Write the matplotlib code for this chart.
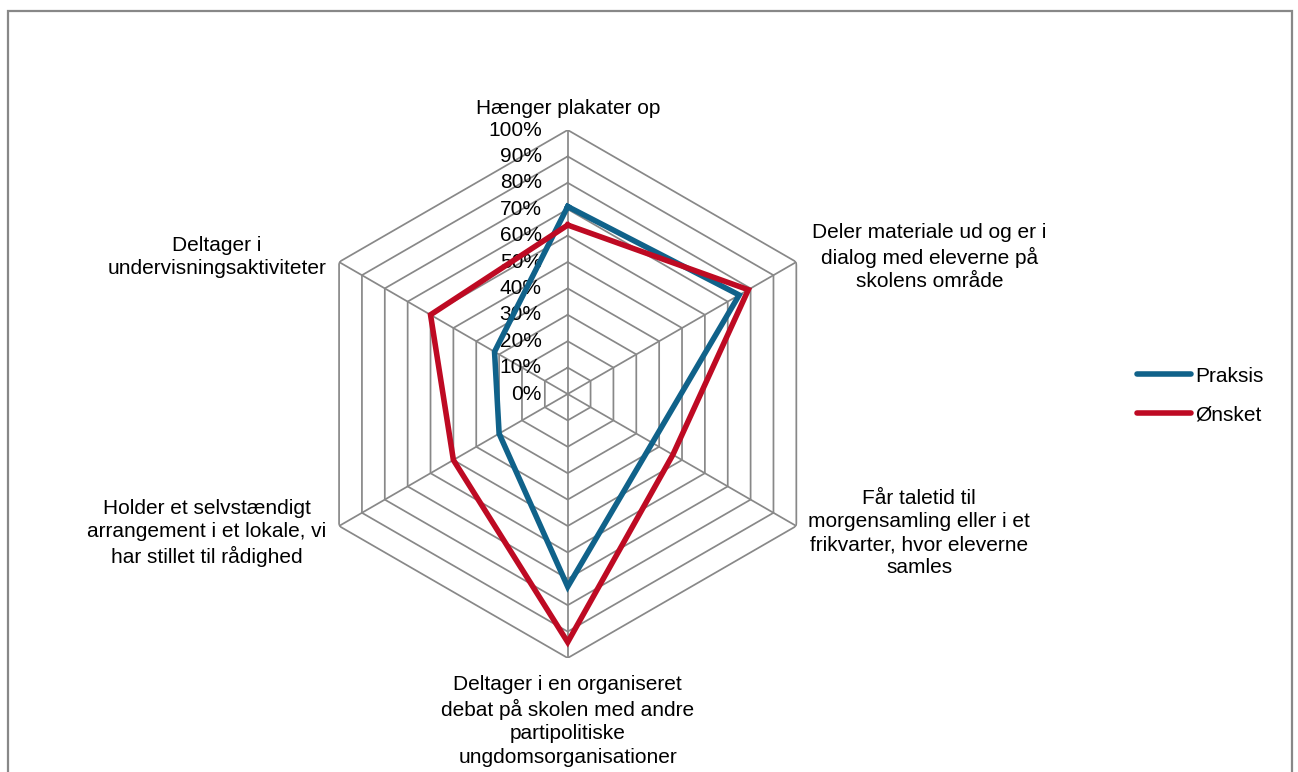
import numpy as np
import matplotlib.pyplot as plt
from matplotlib.patches import Rectangle

plt.rcParams['font.family'] = ['Liberation Sans', 'DejaVu Sans']

categories = [
    "Hænger plakater op",
    "Deler materiale ud og er i\ndialog med eleverne på\nskolens område",
    "Får taletid til\nmorgensamling eller i et\nfrikvarter, hvor eleverne\nsamles",
    "Deltager i en organiseret\ndebat på skolen med andre\npartipolitiske\nungdomsorganisationer",
    "Holder et selvstændigt\narrangement i et lokale, vi\nhar stillet til rådighed",
    "Deltager i\nundervisningsaktiviteter",
]
praksis = [0.71, 0.75, 0.37, 0.73, 0.30, 0.32]
onsket = [0.64, 0.79, 0.46, 0.94, 0.50, 0.60]
levels = [0.0, 0.1, 0.2, 0.3, 0.4, 0.5, 0.6, 0.7, 0.8, 0.9, 1.0]
level_labels = ["0%", "10%", "20%", "30%", "40%", "50%", "60%", "70%", "80%", "90%", "100%"]

BLUE = "#10628A"
RED = "#BE0A23"
GRID = "#888888"
FS = 15

W, H = 1298, 772
fig = plt.figure(figsize=(W / 100, H / 100), dpi=100)

# chart area frame (runs off the bottom edge)
fig.patches.append(Rectangle((8 / W, -0.05), (1292 - 8) / W, 1.05 - 11 / H,
                             transform=fig.transFigure, fill=False,
                             edgecolor=GRID, linewidth=1.6))

cx, cy, R = 567.7, 394, 264
ax = fig.add_axes([(cx - R) / W, (H - cy - R) / H, 2 * R / W, 2 * R / H],
                  projection='polar')
ax.set_theta_zero_location('N')
ax.set_theta_direction(-1)
ax.set_ylim(0, 1)
ax.grid(False)
ax.spines['polar'].set_visible(False)
ax.set_xticks([])
ax.set_yticks([])
ax.patch.set_alpha(0)

n = len(categories)
theta = np.linspace(0, 2 * np.pi, n, endpoint=False)
closed = np.append(theta, theta[0])

# hexagonal grid rings and spokes
for r in levels[1:]:
    ax.plot(closed, [r] * (n + 1), color=GRID, lw=1.25, zorder=1)
for t in theta:
    ax.plot([t, t], [0, 1], color=GRID, lw=1.25, zorder=1)

# value axis labels along the top spoke
for r, lab in zip(levels, level_labels):
    ax.annotate(lab, xy=(0, r), xytext=(-26, 0), textcoords='offset pixels',
                ha='right', va='center', fontsize=FS, zorder=2)

l1, = ax.plot(closed, praksis + praksis[:1], color=BLUE, lw=4,
              solid_joinstyle='miter', zorder=3, label='Praksis')
l2, = ax.plot(closed, onsket + onsket[:1], color=RED, lw=4,
              solid_joinstyle='miter', zorder=4, label='Ønsket')

offsets = [(0, 22), (133, 5), (123, -7), (0, -63), (-132, -7), (-122, 5)]
for t, lab, off in zip(theta, categories, offsets):
    ax.annotate(lab, xy=(t, 1.0), xytext=off, textcoords='offset pixels',
                ha='center', va='center', fontsize=FS, linespacing=1.28,
                annotation_clip=False)

leg = fig.legend(handles=[l1, l2], loc='center left',
                 bbox_to_anchor=(1137 / W, 1 - 395.5 / H), frameon=False,
                 fontsize=FS, handlelength=2.6, handletextpad=0.2,
                 labelspacing=0.95, borderpad=0, borderaxespad=0)
for h in leg.get_lines():
    h.set_solid_capstyle('round')

fig.savefig('out.png', dpi=100)
